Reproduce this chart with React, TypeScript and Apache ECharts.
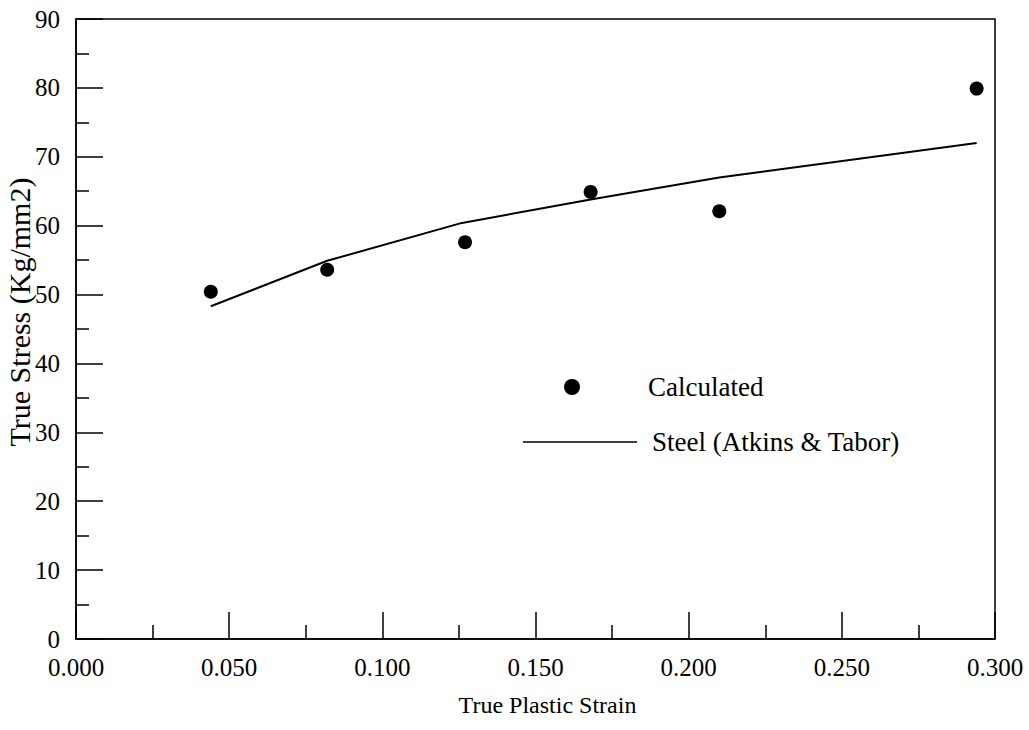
import React, { useEffect, useRef } from "react";
import * as echarts from "echarts";

const calcStrain = [0.044, 0.082, 0.127, 0.168, 0.210, 0.294];
const calcStress = [50.4, 53.6, 57.6, 64.9, 62.1, 79.9];
const steelStrain = [0.044, 0.082, 0.126, 0.168, 0.210, 0.294];
const steelStress = [48.3, 54.9, 60.4, 63.8, 67.0, 72.0];

const xTitle = "True Plastic Strain";
const yTitle = "True Stress (Kg/mm2)";
const calcName = "Calculated";
const steelName = "Steel (Atkins & Tabor)";

const FONT = "'Liberation Serif', 'Times New Roman', serif";

export default function App() {
  const ref = useRef<HTMLDivElement>(null);
  useEffect(() => {
    if (!ref.current) return;
    const chart = echarts.init(ref.current, null, { renderer: "svg" });
    const calcData = calcStrain.map((x, i) => [x, calcStress[i]]);
    const steelData = steelStrain.map((x, i) => [x, steelStress[i]]);
    chart.setOption({
      animation: false,
      backgroundColor: "#ffffff",
      textStyle: { fontFamily: FONT, color: "#000" },
      grid: {
        left: 76,
        top: 19,
        right: 34,
        bottom: 91,
        show: true,
        borderColor: "#000",
        borderWidth: 1.5,
        containLabel: false,
        outerBoundsMode: "none",
      },
      xAxis: {
        type: "value",
        min: 0,
        max: 0.3,
        interval: 0.05,
        name: xTitle,
        nameLocation: "middle",
        nameGap: 54,
        nameMoveOverlap: false,
        nameTextStyle: { fontFamily: FONT, fontSize: 24, color: "#000", padding: [0, 0, 0, 24] },
        axisLine: { show: true, lineStyle: { color: "#000", width: 1.5 } },
        axisTick: { show: true, inside: true, length: 27, lineStyle: { color: "#000", width: 1.5 } },
        minorTick: { show: true, splitNumber: 2, length: 14, lineStyle: { color: "#000", width: 1.5 } },
        splitLine: { show: false },
        axisLabel: {
          fontFamily: FONT,
          fontSize: 25,
          color: "#000",
          margin: 16,
          formatter: (v: number) => v.toFixed(3),
        },
      },
      yAxis: {
        type: "value",
        min: 0,
        max: 90,
        interval: 10,
        name: yTitle,
        nameLocation: "middle",
        nameGap: 42,
        nameMoveOverlap: false,
        nameTextStyle: { fontFamily: FONT, fontSize: 30, color: "#000", padding: [0, 0, 0, 34] },
        axisLine: { show: true, lineStyle: { color: "#000", width: 1.5 } },
        axisTick: { show: true, inside: true, length: 27, lineStyle: { color: "#000", width: 1.5 } },
        minorTick: { show: true, splitNumber: 2, length: 13, lineStyle: { color: "#000", width: 1.5 } },
        splitLine: { show: false },
        axisLabel: { fontFamily: FONT, fontSize: 25, color: "#000", margin: 16 },
      },
      series: [
        {
          name: steelName,
          type: "line",
          data: steelData,
          symbol: "none",
          lineStyle: { color: "#000", width: 2 },
          z: 2,
        },
        {
          name: calcName,
          type: "scatter",
          data: calcData,
          symbol: "circle",
          symbolSize: 14,
          itemStyle: { color: "#000", opacity: 1 },
          z: 3,
        },
      ],
      graphic: [
        { type: "circle", shape: { cx: 572, cy: 387, r: 8 }, style: { fill: "#000" } },
        { type: "line", shape: { x1: 523, y1: 442, x2: 637, y2: 442 }, style: { stroke: "#000", lineWidth: 1.5 } },
        {
          type: "text",
          x: 648,
          y: 387,
          style: { text: calcName, font: `27px ${FONT}`, fill: "#000", verticalAlign: "middle" },
        },
        {
          type: "text",
          x: 652,
          y: 442,
          style: { text: steelName, font: `27px ${FONT}`, fill: "#000", verticalAlign: "middle" },
        },
      ],
    });
    return () => chart.dispose();
  }, []);
  return (
    <div
      ref={ref}
      style={{ position: "absolute", left: 0, top: 0, width: 1029, height: 730, background: "#fff" }}
    />
  );
}
